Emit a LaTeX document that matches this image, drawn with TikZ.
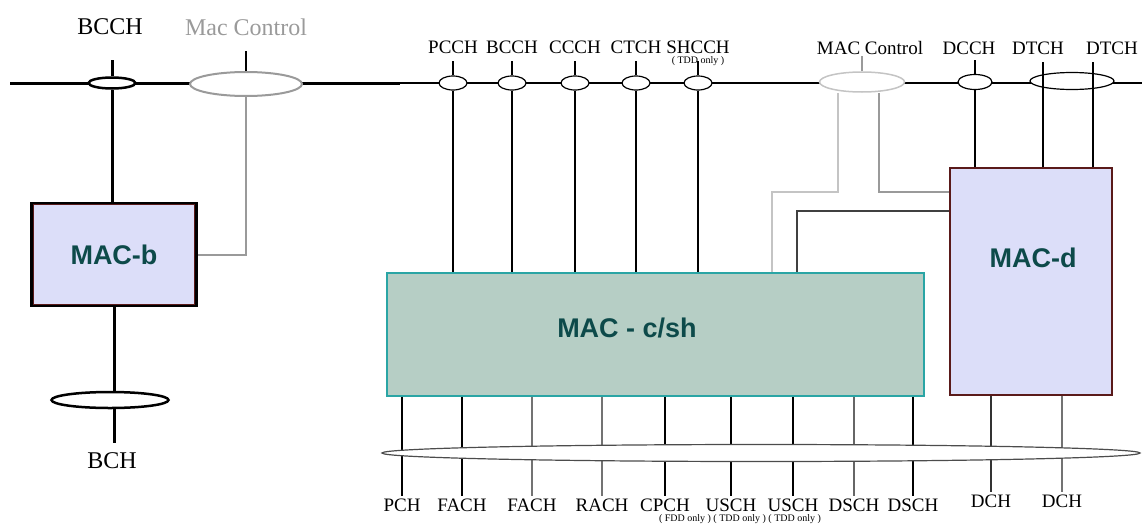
\documentclass[tikz,border=0pt]{standalone}
\usepackage{fontspec}
\setmainfont{Liberation Serif}
\newfontfamily\macfont{Liberation Sans}
\usetikzlibrary{shapes.geometric}

\definecolor{macfill}{HTML}{DCDEF9}
\definecolor{cshfill}{HTML}{B6CEC5}
\definecolor{cshedge}{HTML}{2AA5A5}
\definecolor{medge}{HTML}{5A1A1A}
\definecolor{mtext}{HTML}{0D4A4A}
\definecolor{ctrl}{HTML}{9A9A9A}
\definecolor{ctrllt}{HTML}{C4C4C4}

\tikzset{
  chan/.style={draw, ellipse, fill=white, line width=1.2, inner sep=0, minimum width=28, minimum height=14},
  lbl/.style={font=\fontsize{19}{21}\selectfont, inner sep=2},
  toplbl/.style={font=\fontsize{24}{26}\selectfont, inner sep=2},
  tinylbl/.style={font=\fontsize{10}{11}\selectfont, inner sep=0},
  mac/.style={font=\macfont\bfseries\fontsize{27}{30}\selectfont, text=mtext},
}

\begin{document}
\begin{tikzpicture}[x=1pt,y=-1pt]
    \useasboundingbox (0,0) rectangle (1142,525);

    % the three MAC entities
    \node[draw=black, line width=3.5, fill=macfill, minimum width=164, minimum height=102, inner sep=0, mac] (mb) at (114,254.5) {MAC-b};
    \draw[medge, line width=1] ([shift={(3,3)}]mb.north west) rectangle ([shift={(-3,-3)}]mb.south east);
    \node[draw=cshedge, line width=1.5, fill=cshfill, minimum width=537, minimum height=123] (csh) at (655.5,334.5) {};
    \node[mac] (cshl) at (627,328) {MAC - c/sh};
    \node[draw=medge, line width=1.2, fill=macfill, minimum width=162, minimum height=227] (md) at (1031,281.5) {};
    \node[mac] (mdl) at (1033,258) {MAC-d};

    % logical channel line
    \coordinate (lend) at (10,83);
    \coordinate (mid) at (400,83);
    \coordinate (rend) at (1142,83);
    \draw[line width=3] (lend) -- (mid);
    \draw[line width=1.2] (mid) -- (rend);

    % MAC-b side
    \node[chan, line width=2.5, minimum width=47, minimum height=11] (bcch) at (112,83) {};
    \node[chan, draw=ctrl, line width=2, minimum width=112, minimum height=24] (mcl) at (246,84) {};
    \node[toplbl] (bcchl) at (110,27) {BCCH};
    \node[toplbl, text=ctrl] (mcll) at (246,27) {Mac Control};
    \draw[line width=3] (bcch.north) -- ++(0,-16);
    \draw[line width=3] (bcch.south) -- (bcch.south |- mb.north);
    \draw[line width=2.5] (mcl.north) -- ++(0,-20);
    \draw[ctrl, line width=2] (mcl.south) |- (mb.east);
    \node[toplbl] (bch) at (112,461) {BCH};
    \draw[line width=3] (mb.south) -- ++(0,136);
    \node[chan, line width=2.5, minimum width=117, minimum height=16] (bchov) at (110,400) {};

    % common and shared channels
    \foreach \n/\x/\t in {pcch/453/PCCH, bccht/512/BCCH, ccch/575/CCCH, ctch/636/CTCH, shcch/698/SHCCH} {
        \node[chan] (\n) at (\x,83) {};
        \node[lbl] (\n l) at (\x,47) {\t};
        \draw[line width=1.2] (\n.north) -- ++(0,-14);
        \draw[line width=1.2] (\n.south) -- (\n.south |- csh.north);
    }
    \node[tinylbl] (tdd) at (698,61) {( TDD only )};

    % MAC control to c/sh and d
    \node[chan, draw=ctrllt, line width=1.5, minimum width=85, minimum height=20] (mcr) at (862,82) {};
    \node[lbl] (mcrl) at (870,48) {MAC Control};
    \draw[ctrl, line width=1.2] (mcr.north) -- ++(0,-15);
    \coordinate (k1) at (838,192);
    \coordinate (k2) at (879,192);
    \coordinate (k3) at (772,192);
    \coordinate (k4) at (797,211);
    \draw[ctrllt, line width=1.5] (mcr.south -| k1) -- (k1) -| (csh.north -| k3);
    \draw[ctrl, line width=1.5] (mcr.south -| k2) |- (md.west |- k2);
    \draw[black!75, line width=1.5] (md.west |- k4) -| (csh.north -| k4);

    % dedicated channels
    \node[chan, minimum width=34, minimum height=15] (dcch) at (975,82) {};
    \node[lbl] (dcchl) at (969,48) {DCCH};
    \draw[line width=1.2] (dcch.north) -- ++(0,-14);
    \draw[line width=1.2] (dcch.south) -- (dcch.south |- md.north);
    \node[chan, minimum width=84, minimum height=17] (dtch) at (1072,81) {};
    \node[lbl] (dtchl) at (1038,48) {DTCH};
    \node[lbl] (dtchr) at (1112,48) {DTCH};
    \coordinate (t1) at (1043,62);
    \coordinate (t2) at (1093,62);
    \draw[line width=1.2] (t1) -- (t1 |- md.north);
    \draw[line width=1.2] (t2) -- (t2 |- md.north);

    % transport channels
    \foreach \n/\x/\t/\c in {pch/402/PCH/black, fach/462/FACH/black, facht/532/FACH/black!55, rach/602/RACH/black!55, cpch/665/CPCH/black, usch/731/USCH/black, uscht/793/USCH/black, dsch/854/DSCH/black!60, dscht/913/DSCH/black} {
        \node[lbl] (\n) at (\x,505) {\t};
        \draw[\c, line width=1.2] (csh.south -| \n.north) -- (\n.north);
    }
    \foreach \n/\x/\c in {dch/991/black!80, dcht/1062/black!55} {
        \node[lbl] (\n) at (\x,501) {DCH};
        \draw[\c, line width=1.2] (md.south -| \n.north) -- (\n.north);
    }
    \node[tinylbl] (fdd) at (740,519) {( FDD only ) ( TDD only ) ( TDD only )};
    \node[draw=black!70, ellipse, fill=white, line width=1.2, inner sep=0, minimum width=758, minimum height=17] (bus) at (761,453) {};
\end{tikzpicture}
\end{document}
